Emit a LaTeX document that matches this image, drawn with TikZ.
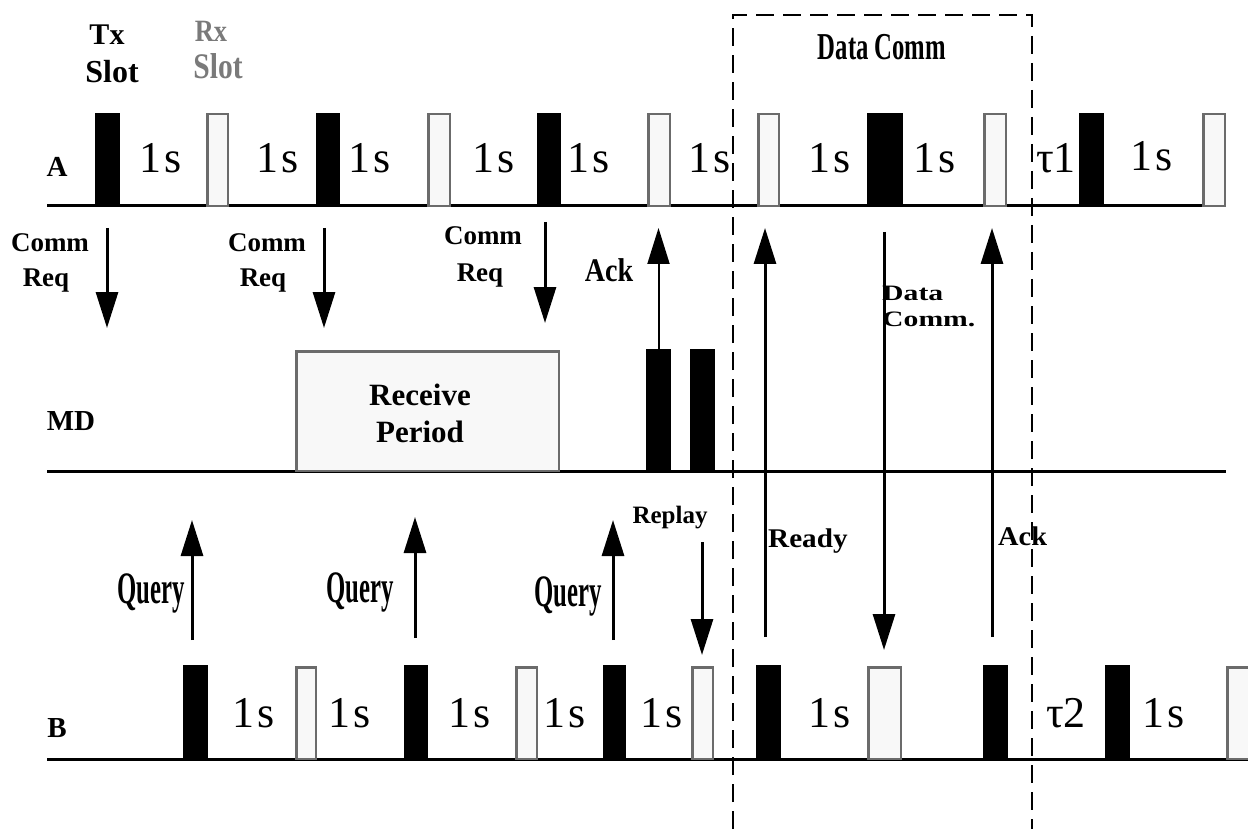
\documentclass[tikz,border=0pt]{standalone}
\usepackage{fontspec}
\setmainfont{Liberation Serif}
\usepackage{graphicx}
\usetikzlibrary{arrows.meta}
\definecolor{rxgray}{HTML}{6B6B6B}
\definecolor{rxfill}{HTML}{F8F8F8}
\definecolor{lblgray}{HTML}{7A7A7A}
\newcommand\fsz[1]{\fontsize{#1}{#1}\selectfont}
\tikzset{
  txs/.style={fill=black, inner sep=0pt, outer sep=0pt, anchor=south west},
  rxs/.style={fill=rxfill, draw=rxgray, line width=2.5pt, inner sep=0pt, outer sep=0pt, anchor=south west},
  tline/.style={line width=3pt},
  arr/.style={line width=3pt, -{Triangle[length=36pt,width=22pt]}},
  thinarr/.style={line width=2pt, -{Triangle[length=36pt,width=22pt]}},
  onesec/.style={font=\fsz{44}, anchor=base, inner sep=0pt},
  lbl/.style={font=\bfseries, anchor=base, inner sep=0pt},
  dbox/.style={line width=2pt, dash pattern=on 18pt off 9pt}
}
\begin{document}
\begin{tikzpicture}[x=1pt,y=-1pt]
\useasboundingbox (0,0) rectangle (1248,829);
% timelines
\coordinate (Aleft) at (47,206);  \coordinate (Aright) at (1226,206);
\coordinate (Mleft) at (47,471);  \coordinate (Mright) at (1226,471);
\coordinate (Bleft) at (47,759);  \coordinate (Bright) at (1248,759);
\draw[tline] (Aleft) -- (Aright);
\draw[tline] (Mleft) -- (Mright);
\draw[tline] (Bleft) -- (Bright);
% row A slots
\node[txs, minimum width=25pt, minimum height=93pt] (at1) at (95,206) {};
\node[txs, minimum width=24pt, minimum height=93pt] (at2) at (316,206) {};
\node[txs, minimum width=24pt, minimum height=93pt] (at3) at (537,206) {};
\node[txs, minimum width=36pt, minimum height=93pt] (at4) at (867,206) {};
\node[txs, minimum width=25pt, minimum height=93pt] (at5) at (1079,206) {};
\node[rxs, minimum width=20.5pt, minimum height=91.75pt] (ar1) at (207.25,206) {};
\node[rxs, minimum width=21.5pt, minimum height=91.75pt] (ar2) at (428.25,206) {};
\node[rxs, minimum width=21.5pt, minimum height=91.75pt] (ar3) at (648.25,206) {};
\node[rxs, minimum width=20.5pt, minimum height=91.75pt] (ar4) at (758.25,206) {};
\node[rxs, minimum width=21.5pt, minimum height=91.75pt] (ar5) at (984.25,206) {};
\node[rxs, minimum width=21.5pt, minimum height=91.75pt] (ar6) at (1203.25,206) {};
% row B slots
\node[txs, minimum width=25pt, minimum height=94pt] (bt1) at (183,759) {};
\node[txs, minimum width=24pt, minimum height=94pt] (bt2) at (404,759) {};
\node[txs, minimum width=23pt, minimum height=94pt] (bt3) at (603,759) {};
\node[txs, minimum width=25pt, minimum height=94pt] (bt4) at (756,759) {};
\node[txs, minimum width=25pt, minimum height=94pt] (bt5) at (983,759) {};
\node[txs, minimum width=25pt, minimum height=94pt] (bt6) at (1105,759) {};
\node[rxs, minimum width=19.5pt, minimum height=91.75pt] (br1) at (296.25,759) {};
\node[rxs, minimum width=20.5pt, minimum height=91.75pt] (br2) at (516.25,759) {};
\node[rxs, minimum width=20.5pt, minimum height=91.75pt] (br3) at (692.25,759) {};
\node[rxs, minimum width=32.5pt, minimum height=91.75pt] (br4) at (868.25,759) {};
\node[rxs, minimum width=21.5pt, minimum height=91.75pt] (br5) at (1227.25,759) {};
% MD
\node[rxs, minimum width=262.5pt, minimum height=119.75pt] (recv) at (296.25,471) {};
\node[lbl, font=\bfseries\fsz{31}] (recv1) at (420,405) {Receive};
\node[lbl, font=\bfseries\fsz{31}] (recv2) at (420,442) {Period};
\node[txs, minimum width=25pt, minimum height=122pt] (md1) at (646,471) {};
\node[txs, minimum width=25pt, minimum height=122pt] (md2) at (690,471) {};
% row labels
\node[lbl, font=\bfseries\fsz{29}] (labA) at (57,177) {A};
\node[lbl, font=\bfseries\fsz{29}] (labMD) at (71,430) {MD};
\node[lbl, font=\bfseries\fsz{29}] (labB) at (57,737) {B};
% slot legend
\node[lbl, font=\bfseries\fsz{30}] (tx) at (107,45) {Tx};
\node[lbl, font=\bfseries\fsz{32}] (txslot) at (112,83) {Slot};
\node[lbl, font=\bfseries\fsz{31}, text=lblgray] (rx) at (211,42) {\scalebox{0.85}[1]{Rx}};
\node[lbl, font=\bfseries\fsz{36}, text=lblgray] (rxslot) at (218,79) {\scalebox{0.82}[1]{Slot}};
% durations row A
\node[onesec] (sa1) at (161,173) {1\kern3pt s};
\node[onesec] (sa2) at (278,173) {1\kern3pt s};
\node[onesec] (sa3) at (370,173) {1\kern3pt s};
\node[onesec] (sa4) at (494,173) {1\kern3pt s};
\node[onesec] (sa5) at (589,173) {1\kern3pt s};
\node[onesec] (sa6) at (710,173) {1\kern3pt s};
\node[onesec] (sa7) at (830,173) {1\kern3pt s};
\node[onesec] (sa8) at (935,173) {1\kern3pt s};
\node[onesec] (tau1) at (1056,173) {τ1};
\node[onesec] (sa9) at (1152,171) {1\kern3pt s};
% durations row B
\node[onesec] (sb1) at (254,727) {1\kern3pt s};
\node[onesec] (sb2) at (350,727) {1\kern3pt s};
\node[onesec] (sb3) at (470,727) {1\kern3pt s};
\node[onesec] (sb4) at (565,727) {1\kern3pt s};
\node[onesec] (sb5) at (662,727) {1\kern3pt s};
\node[onesec] (sb6) at (830,727) {1\kern3pt s};
\node[onesec] (tau2) at (1066,727) {τ2};
\node[onesec] (sb7) at (1164,727) {1\kern3pt s};
% dashed data comm box
\coordinate (dbl) at (733,829); \coordinate (dtl) at (733,15);
\coordinate (dtr) at (1032,15); \coordinate (dbr) at (1032,829);
\draw[dbox] (dbl) -- (dtl) -- (dtr) -- (dbr);
\node[lbl, font=\bfseries\fsz{38}] (dclabel) at (882,60) {\scalebox{0.65}[1]{Data Comm}};
% Comm Req arrows
\coordinate (cr1s) at (107,228); \coordinate (cr1e) at (107,328);
\coordinate (cr2s) at (324,228); \coordinate (cr2e) at (324,328);
\coordinate (cr3s) at (545,222); \coordinate (cr3e) at (545,323);
\draw[arr] (cr1s) -- (cr1e);
\draw[arr] (cr2s) -- (cr2e);
\draw[arr] (cr3s) -- (cr3e);
\node[lbl, font=\bfseries\fsz{27}] (c1a) at (50,252) {Comm};
\node[lbl, font=\bfseries\fsz{27}] (c1b) at (46,287) {Req};
\node[lbl, font=\bfseries\fsz{27}] (c2a) at (267,252) {Comm};
\node[lbl, font=\bfseries\fsz{27}] (c2b) at (263,287) {Req};
\node[lbl, font=\bfseries\fsz{27}] (c3a) at (483,245) {Comm};
\node[lbl, font=\bfseries\fsz{27}] (c3b) at (480,282) {Req};
% Ack from MD
\coordinate (ack1e) at (658.5,228);
\draw[thinarr] (md1.north) -- (ack1e);
\node[lbl, font=\bfseries\fsz{33}] (ack1) at (609,282) {\scalebox{0.85}[1]{Ack}};
% Query arrows
\coordinate (q1s) at (192,640); \coordinate (q1e) at (192,520);
\coordinate (q2s) at (415,638); \coordinate (q2e) at (415,517);
\coordinate (q3s) at (613,640); \coordinate (q3e) at (613,520);
\draw[arr] (q1s) -- (q1e);
\draw[arr] (q2s) -- (q2e);
\draw[arr] (q3s) -- (q3e);
\node[lbl, font=\bfseries\fsz{45}] (qry1) at (151,603) {\scalebox{0.55}[1]{Query}};
\node[lbl, font=\bfseries\fsz{45}] (qry2) at (360,602) {\scalebox{0.55}[1]{Query}};
\node[lbl, font=\bfseries\fsz{45}] (qry3) at (568,606) {\scalebox{0.55}[1]{Query}};
% Replay
\coordinate (rps) at (702,542); \coordinate (rpe) at (702,655);
\draw[arr] (rps) -- (rpe);
\node[lbl, font=\bfseries\fsz{25}] (replay) at (670,523) {Replay};
% data comm arrows
\coordinate (rds) at (765,637); \coordinate (rde) at (765,228);
\draw[arr] (rds) -- (rde);
\node[lbl, font=\bfseries\fsz{27}, anchor=base west] (ready) at (768,547) {\scalebox{1.08}[1]{Ready}};
\coordinate (dcs) at (884,232); \coordinate (dce) at (884,650);
\draw[arr] (dcs) -- (dce);
\node[lbl, font=\bfseries\fsz{22}, anchor=base west] (dc1) at (882,300) {\scalebox{1.35}[1]{Data}};
\node[lbl, font=\bfseries\fsz{22}, anchor=base west] (dc2) at (882,326) {\scalebox{1.35}[1]{Comm.}};
\coordinate (ak2s) at (992,637); \coordinate (ak2e) at (992,228);
\draw[arr] (ak2s) -- (ak2e);
\node[lbl, font=\bfseries\fsz{27}, anchor=base west] (ack2) at (998,545) {\scalebox{1.05}[1]{Ack}};
\end{tikzpicture}
\end{document}
